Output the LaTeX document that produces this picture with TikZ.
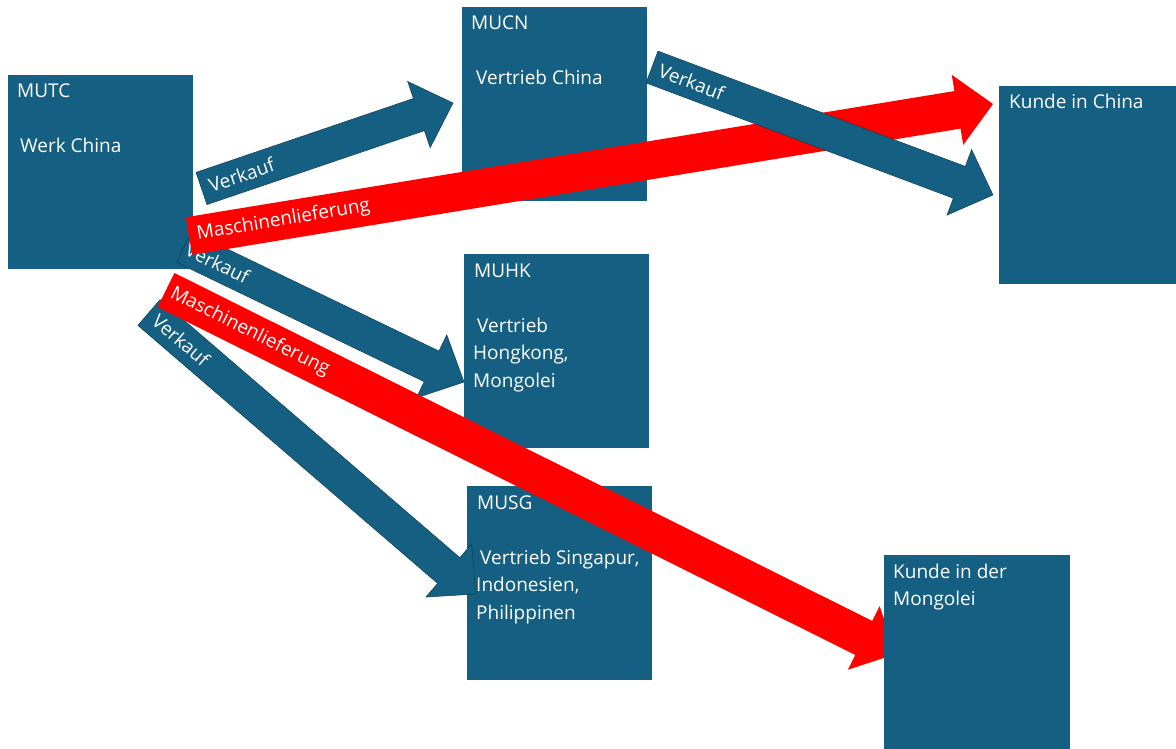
\documentclass[tikz,border=0pt]{standalone}
\usepackage{fontspec}
\setmainfont{Open Sans}
\usetikzlibrary{calc}
\definecolor{mublue}{HTML}{156082}
\definecolor{muedge}{HTML}{0E3F57}

% Block arrow from #1 (tail middle) to #2 (tip):
% #3 half shaft width, #4 half head width, #5 head length, #6 style
\newcommand{\blockarrow}[6]{%
  \coordinate (ba-b) at ($(#2)!#5!(#1)$);
  \filldraw[#6]
    ($(#1)!#3!90:(#2)$) -- ($(ba-b)!#3!90:(#2)$) -- ($(ba-b)!#4!90:(#2)$)
    -- (#2)
    -- ($(ba-b)!#4!-90:(#2)$) -- ($(ba-b)!#3!-90:(#2)$) -- ($(#1)!#3!-90:(#2)$)
    -- cycle;
}

\tikzset{
  unit/.style={fill=mublue, draw=none, inner sep=0pt, anchor=north west,
    minimum width=185pt, minimum height=194pt},
  txt/.style={text=white, font=\fontsize{19}{23}\selectfont, inner sep=0pt,
    anchor=base west},
  bluearrow/.style={fill=mublue, draw=muedge, line width=0.5pt, line join=miter},
  redarrow/.style={fill=red, draw=none},
  arrowlbl/.style={text=white, font=\fontsize{19}{23}\selectfont, sloped,
    anchor=west, inner ysep=0pt, inner xsep=8pt},
}

\begin{document}
\begin{tikzpicture}[x=1pt, y=-1pt]
  \fill[white] (0,0) rectangle (1176,749);
  \useasboundingbox (0,0) rectangle (1176,749);

  % companies
  \node[unit] (mutc) at (8,75) {};
  \node[txt] (mutc-a) at (17,98) {MUTC};
  \node[txt] (mutc-b) at (20,153) {Werk China};

  \node[unit] (mucn) at (462,7) {};
  \node[txt] (mucn-a) at (471,30) {MUCN};
  \node[txt] (mucn-b) at (476,85) {Vertrieb China};

  \node[unit] (muhk) at (464,254) {};
  \node[txt] (muhk-a) at (474,277) {MUHK};
  \node[txt] (muhk-b) at (477,332) {Vertrieb};
  \node[txt] (muhk-c) at (473,359.5) {Hongkong,};
  \node[txt] (muhk-d) at (473,387) {Mongolei};

  \node[unit] (musg) at (467,486) {};
  \node[txt] (musg-a) at (477,509) {MUSG};
  \node[txt] (musg-b) at (480,564) {Vertrieb Singapur,};
  \node[txt] (musg-c) at (476,591.5) {Indonesien,};
  \node[txt] (musg-d) at (476,619) {Philippinen};

  % arrow ends
  \coordinate (v1s) at (201.5,188.5); \coordinate (v1e) at (453,103);
  \coordinate (v3s) at (652,67);      \coordinate (v3e) at (993,195);
  \coordinate (v4s) at (184,247);     \coordinate (v4e) at (464,382);
  \coordinate (v6s) at (149,312.5);   \coordinate (v6e) at (476,594);
  \coordinate (m2s) at (189,236);     \coordinate (m2e) at (993,104);
  \coordinate (m5s) at (166,290);     \coordinate (m5e) at (896,654);

  % sales flows
  \blockarrow{v1s}{v1e}{17pt}{35pt}{36pt}{bluearrow}
  \path (v1s) -- (v1e) node[arrowlbl, pos=0] (v1l) {Verkauf};

  \blockarrow{v4s}{v4e}{17pt}{35pt}{36pt}{bluearrow}
  \path (v4s) -- (v4e) node[arrowlbl, pos=0, inner xsep=3pt] (v4l) {Verkauf};

  \blockarrow{v6s}{v6e}{17pt}{35pt}{36pt}{bluearrow}
  \path (v6s) -- (v6e) node[arrowlbl, pos=0] (v6l) {Verkauf};

  % machine deliveries
  \blockarrow{m2s}{m2e}{19pt}{35.5pt}{36pt}{redarrow}
  \path (m2s) -- (m2e) node[arrowlbl, pos=0] (m2l) {Maschinenlieferung};

  \blockarrow{m5s}{m5e}{19pt}{35.5pt}{36pt}{redarrow}
  \path (m5s) -- (m5e) node[arrowlbl, pos=0, inner xsep=6pt] (m5l) {Maschinenlieferung};

  \blockarrow{v3s}{v3e}{17pt}{35pt}{36pt}{bluearrow}
  \path (v3s) -- (v3e) node[arrowlbl, pos=0] (v3l) {Verkauf};

  % customers
  \node[unit, minimum width=177pt, minimum height=198pt] (kcn) at (999,86) {};
  \node[txt] (kcn-a) at (1009,109) {Kunde in China};

  \node[unit, minimum width=186pt] (kmn) at (884,555) {};
  \node[txt] (kmn-a) at (893,578) {Kunde in der};
  \node[txt] (kmn-b) at (893,605.5) {Mongolei};
\end{tikzpicture}
\end{document}
